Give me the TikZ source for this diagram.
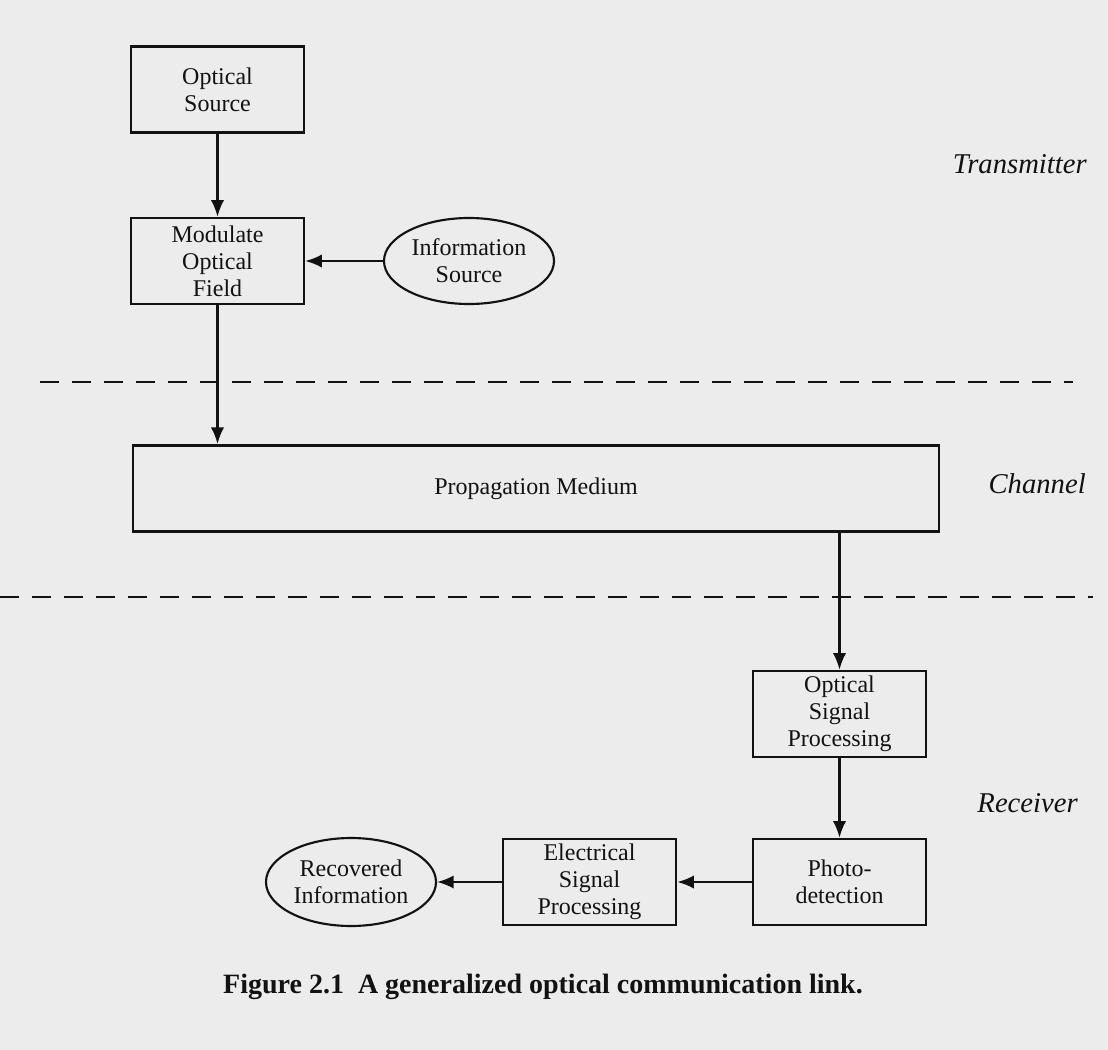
\documentclass[tikz,border=0pt]{standalone}
\usepackage{fontspec}
\setmainfont{Liberation Serif}
\usetikzlibrary{shapes.geometric,arrows.meta}
\definecolor{bg}{RGB}{236,236,236}
\definecolor{ink}{RGB}{18,18,18}
\begin{document}
\begin{tikzpicture}[x=0.75pt,y=-0.75pt,
  box/.style={draw=ink,line width=1.9pt,minimum width=129.75pt,minimum height=64.5pt,inner sep=0pt,align=center,font=\fontsize{18}{20.25}\selectfont,text=ink},
  oval/.style={ellipse,draw=ink,line width=1.6pt,minimum width=127.5pt,minimum height=64.5pt,inner sep=0pt,align=center,font=\fontsize{18}{20.25}\selectfont,text=ink},
  flow/.style={draw=ink,line width=1.6pt,-{Latex[length=12.5pt,width=10pt]}},
  divider/.style={draw=ink,line width=1.5pt,dash pattern=on 14.25pt off 9.75pt},
  zone/.style={font=\itshape\fontsize{21.5}{24}\selectfont,text=ink,inner sep=0pt,anchor=base east},
]
\fill[bg] (0,0) rectangle (1108,1050);
\useasboundingbox (0,0) rectangle (1108,1050);

% transmitter
\node[box] (src) at (217.5,89.5) {Optical\\Source};
\node[box] (mod) at (217.5,261) {Modulate\\Optical\\Field};
\node[oval] (info) at (469,261) {Information\\Source};
% channel
\node[box,line width=2.2pt,minimum width=604.5pt] (prop) at (536,488.5) {Propagation Medium};
% receiver
\node[box] (osp) at (839.5,714) {Optical\\Signal\\Processing};
\node[box] (pd) at (839.5,882) {Photo-\\detection};
\node[box] (esp) at (589.5,882) {Electrical\\Signal\\Processing};
\node[oval,minimum height=66pt] (rec) at (351,882) {Recovered\\Information};

% connectors
\draw[flow] (src) -- (mod);
\draw[flow] (info) -- (mod);
\draw[flow] (mod.south) -- (mod.south |- prop.north);
\draw[flow] (osp.north |- prop.south) -- (osp.north);
\draw[flow] (osp) -- (pd);
\draw[flow] (pd) -- (esp);
\draw[flow] (esp) -- (rec);

% dividers
\coordinate (d1a) at (40,382);
\coordinate (d1b) at (1073,382);
\coordinate (d2a) at (0,597);
\coordinate (d2b) at (1093,597);
\draw[divider] (d1a) -- (d1b);
\draw[divider] (d2a) -- (d2b);

% zone labels
\node[zone] (ltx) at (1087,173) {Transmitter};
\node[zone] (lch) at (1086,493) {Channel};
\node[zone] (lrx) at (1078,812) {Receiver};

% caption
\node[font=\bfseries\fontsize{21}{24}\selectfont,text=ink,anchor=base,inner sep=0pt] (cap) at (543,993) {Figure 2.1\enspace A generalized optical communication link.};
\end{tikzpicture}
\end{document}
